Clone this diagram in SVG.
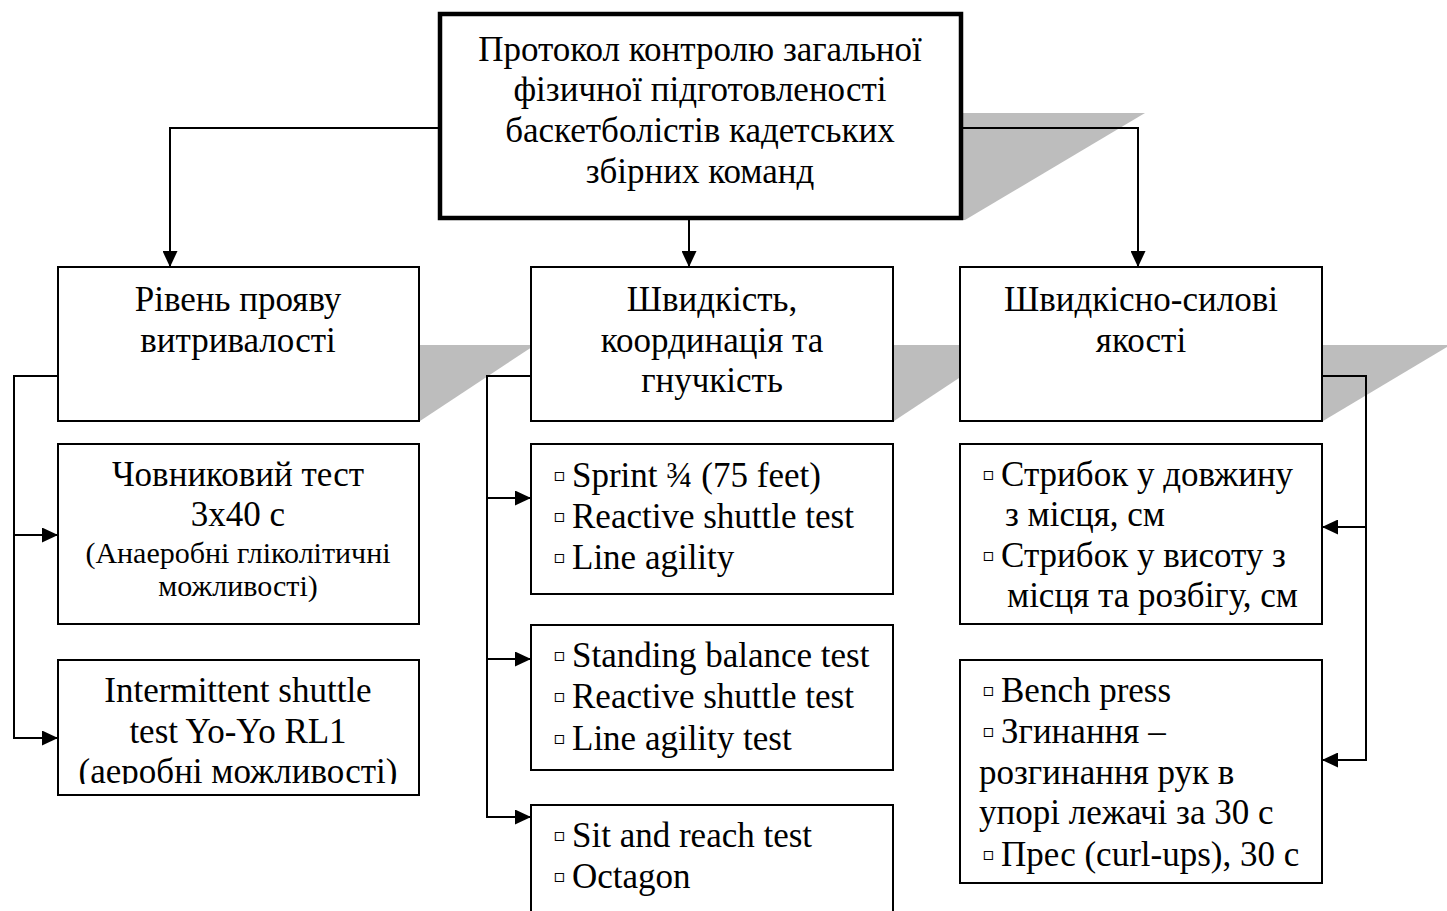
<svg xmlns="http://www.w3.org/2000/svg" width="1447" height="911" viewBox="0 0 1447 911">
  <defs>
    <style>
      text { font-family: "Liberation Serif", "Times New Roman", serif; fill: #000; }
      .t { font-size: 35px; }
      .c { text-anchor: middle; }
      .s { font-size: 30px; }
      .b { font-family: "DejaVu Sans", sans-serif; font-size: 18px; }
      .box { fill: #fff; stroke: #000; stroke-width: 2; }
      .main { fill: #fff; stroke: #000; stroke-width: 4.5; }
      .shadow { fill: #bdbdbd; stroke: none; }
      .wire { fill: none; stroke: #000; stroke-width: 2; }
    </style>
    <marker id="arr" viewBox="0 0 10 10" refX="10" refY="5" markerWidth="16" markerHeight="15" markerUnits="userSpaceOnUse" orient="auto" preserveAspectRatio="none">
      <path d="M0,0 L10,5 L0,10 Z" fill="#000"/>
    </marker>
    <clipPath id="clipA2">
      <rect x="58" y="660" width="361" height="124"/>
    </clipPath>
  </defs>

  <!-- perspective shadows -->
  <g id="shadows">
    <polygon class="shadow" points="961,113 1145,113 965,220 961,220"/>
    <polygon class="shadow" points="419,345 535,345 420,421 419,421"/>
    <polygon class="shadow" points="893,345 1009,345 894,421 893,421"/>
    <polygon class="shadow" points="1322,345 1447,345 1447,347 1323,421 1322,421"/>
  </g>

  <!-- connectors -->
  <g id="connectors">
    <polyline class="wire" points="440,128 170,128 170,267" marker-end="url(#arr)"/>
    <polyline class="wire" points="689,218 689,267" marker-end="url(#arr)"/>
    <polyline class="wire" points="961,128 1138,128 1138,267" marker-end="url(#arr)"/>

    <polyline class="wire" points="58,376 14,376 14,535 58,535" marker-end="url(#arr)"/>
    <polyline class="wire" points="14,535 14,738 58,738" marker-end="url(#arr)"/>

    <polyline class="wire" points="531,376 487,376 487,498 531,498" marker-end="url(#arr)"/>
    <polyline class="wire" points="487,498 487,659 531,659" marker-end="url(#arr)"/>
    <polyline class="wire" points="487,659 487,817 531,817" marker-end="url(#arr)"/>

    <polyline class="wire" points="1322,376 1366,376 1366,527 1322,527" marker-end="url(#arr)"/>
    <polyline class="wire" points="1366,527 1366,760 1322,760" marker-end="url(#arr)"/>
  </g>

  <!-- root -->
  <g id="root">
    <rect class="main" x="440" y="14" width="521" height="204"/>
    <text class="t c" x="700" y="61">Протокол контролю загальної</text>
    <text class="t c" x="700" y="101">фізичної підготовленості</text>
    <text class="t c" x="700" y="142">баскетболістів кадетських</text>
    <text class="t c" x="700" y="183">збірних команд</text>
  </g>

  <!-- categories -->
  <g id="endurance">
    <rect class="box" x="58" y="267" width="361" height="154"/>
    <text class="t c" x="238" y="311">Рівень прояву</text>
    <text class="t c" x="238" y="352">витривалості</text>
  </g>
  <g id="speed">
    <rect class="box" x="531" y="267" width="362" height="154"/>
    <text class="t c" x="712" y="311">Швидкість,</text>
    <text class="t c" x="712" y="352">координація та</text>
    <text class="t c" x="712" y="392">гнучкість</text>
  </g>
  <g id="power">
    <rect class="box" x="960" y="267" width="362" height="154"/>
    <text class="t c" x="1141" y="311">Швидкісно-силові</text>
    <text class="t c" x="1141" y="352">якості</text>
  </g>

  <!-- endurance tests -->
  <g id="shuttle-3x40">
    <rect class="box" x="58" y="444" width="361" height="180"/>
    <text class="t c" x="238" y="486">Човниковий тест</text>
    <text class="t c" x="238" y="526">3х40 с</text>
    <text class="s c" x="238" y="563">(Анаеробні гліколітичні</text>
    <text class="s c" x="238" y="596">можливості)</text>
  </g>
  <g id="yoyo">
    <rect class="box" x="58" y="660" width="361" height="135"/>
    <g clip-path="url(#clipA2)">
      <text class="t c" x="238" y="702">Intermittent shuttle</text>
      <text class="t c" x="238" y="743">test Yo-Yo RL1</text>
      <text class="t c" x="238" y="783">(аеробні можливості)</text>
    </g>
  </g>

  <!-- speed / coordination tests -->
  <g id="sprint">
    <rect class="box" x="531" y="444" width="362" height="150"/>
    <text class="b" x="553" y="481">▫</text>
    <text class="t" x="572" y="487">Sprint ¾ (75 feet)</text>
    <text class="b" x="553" y="522">▫</text>
    <text class="t" x="572" y="528">Reactive shuttle test</text>
    <text class="b" x="553" y="563">▫</text>
    <text class="t" x="572" y="569">Line agility</text>
  </g>
  <g id="balance">
    <rect class="box" x="531" y="625" width="362" height="145"/>
    <text class="b" x="553" y="661">▫</text>
    <text class="t" x="572" y="667">Standing balance test</text>
    <text class="b" x="553" y="702">▫</text>
    <text class="t" x="572" y="708">Reactive shuttle test</text>
    <text class="b" x="553" y="744">▫</text>
    <text class="t" x="572" y="750">Line agility test</text>
  </g>
  <g id="flexibility">
    <rect class="box" x="531" y="805" width="362" height="120"/>
    <text class="b" x="553" y="841">▫</text>
    <text class="t" x="572" y="847">Sit and reach test</text>
    <text class="b" x="553" y="882">▫</text>
    <text class="t" x="572" y="888">Octagon</text>
  </g>

  <!-- speed-strength tests -->
  <g id="jumps">
    <rect class="box" x="960" y="444" width="362" height="180"/>
    <text class="b" x="982" y="480">▫</text>
    <text class="t" x="1001" y="486">Стрибок у довжину</text>
    <text class="t" x="1005" y="526">з місця, см</text>
    <text class="b" x="982" y="561">▫</text>
    <text class="t" x="1001" y="567">Стрибок у висоту з</text>
    <text class="t" x="1007" y="607">місця та розбігу, см</text>
  </g>
  <g id="strength">
    <rect class="box" x="960" y="660" width="362" height="223"/>
    <text class="b" x="982" y="696">▫</text>
    <text class="t" x="1001" y="702">Bench press</text>
    <text class="b" x="982" y="737">▫</text>
    <text class="t" x="1001" y="743">Згинання –</text>
    <text class="t" x="979" y="784">розгинання рук в</text>
    <text class="t" x="979" y="824">упорі лежачі за 30 с</text>
    <text class="b" x="982" y="860">▫</text>
    <text class="t" x="1001" y="866">Прес (curl-ups), 30 с</text>
  </g>
</svg>
